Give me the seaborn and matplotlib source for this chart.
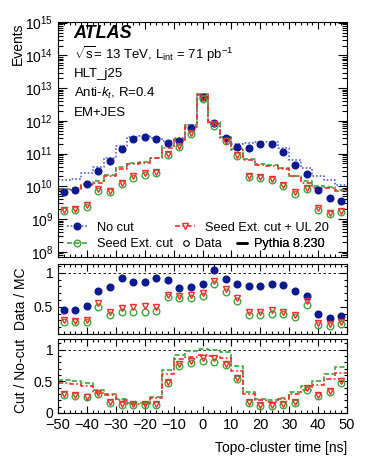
import numpy as np
import matplotlib
matplotlib.use('Agg')
import matplotlib.pyplot as plt
from matplotlib.lines import Line2D
from matplotlib.ticker import MultipleLocator, FixedLocator, FuncFormatter, LogLocator, NullFormatter
import seaborn as sns

# topo-cluster time bins [ns]
bin_edges = list(range(-50, 51, 4))
time_ns = [-48, -44, -40, -36, -32, -28, -24, -20, -16, -12, -8, -4, 0,
           4, 8, 12, 16, 20, 24, 28, 32, 36, 40, 44, 48]

# events, data
data_nocut = [6.5e9, 7.8e9, 1.2e10, 2.9e10, 6.0e10, 1.4e11, 2.8e11, 3.3e11, 2.7e11, 2.1e11, 2.5e11, 6.0e11, 5.5e12,
              8.9e11, 2.9e11, 1.6e11, 1.5e11, 2.0e11, 2.0e11, 1.1e11, 4.5e10, 2.4e10, 7.9e9, 4.3e9, 3.5e9]
data_seed = [1.75e9, 1.85e9, 2.4e9, 7.4e9, 6.6e9, 1.15e10, 1.85e10, 2.2e10, 2.5e10, 9.2e10, 1.6e11, 4.1e11, 4.7e12,
             7.2e11, 2.4e11, 8.6e10, 1.95e10, 1.75e10, 1.55e10, 1.0e10, 6.0e9, 8.0e9, 1.9e9, 1.4e9, 1.65e9]
data_ul20 = [1.9e9, 2.0e9, 2.6e9, 8.1e9, 7.2e9, 1.3e10, 2.1e10, 2.5e10, 2.8e10, 9.8e10, 1.7e11, 4.4e11, 5.0e12,
             7.9e11, 2.5e11, 9.1e10, 2.1e10, 1.9e10, 1.7e10, 1.1e10, 6.5e9, 8.7e9, 2.1e9, 1.5e9, 1.8e9]

# events, Pythia 8.230
mc_nocut = [1.6e10, 1.7e10, 2.5e10, 4.0e10, 7.2e10, 1.7e11, 3.2e11, 3.5e11, 3.0e11, 2.5e11, 3.0e11, 7.6e11, 6.6e12,
            9.1e11, 3.3e11, 1.9e11, 2.1e11, 2.3e11, 2.3e11, 1.5e11, 6.5e10, 3.5e10, 2.0e10, 1.6e10, 1.1e10]
mc_seed = [8.3e9, 8.7e9, 1.2e10, 1.5e10, 2.2e10, 3.8e10, 5.1e10, 5.6e10, 7.5e10, 1.7e11, 2.8e11, 7.4e11, 6.7e12,
           9.0e11, 3.2e11, 1.4e11, 6.9e10, 4.9e10, 4.6e10, 3.6e10, 2.1e10, 1.5e10, 1.0e10, 9.8e9, 7.9e9]
mc_ul20 = [7.5e9, 7.8e9, 1.1e10, 1.25e10, 2.0e10, 3.4e10, 4.8e10, 5.3e10, 7.2e10, 1.5e11, 2.6e11, 6.7e11, 6.0e12,
           8.2e11, 2.9e11, 1.3e11, 6.3e10, 4.6e10, 4.1e10, 3.4e10, 2.0e10, 1.3e10, 9.0e9, 8.6e9, 7.0e9]

# Data / MC
dmc_nocut = [0.456, 0.456, 0.505, 0.735, 0.79, 0.92, 0.86, 0.87, 0.93, 0.89, 0.78, 0.79, 0.83,
             1.045, 0.91, 0.83, 0.81, 0.81, 0.83, 0.82, 0.73, 0.66, 0.40, 0.34, 0.36]
dmc_ul20 = [0.30, 0.29, 0.30, 0.55, 0.42, 0.48, 0.50, 0.51, 0.49, 0.68, 0.66, 0.67, 0.70,
            0.88, 0.76, 0.63, 0.42, 0.43, 0.46, 0.43, 0.38, 0.58, 0.26, 0.25, 0.28]
dmc_seed = [0.27, 0.27, 0.28, 0.50, 0.38, 0.42, 0.42, 0.42, 0.44, 0.64, 0.63, 0.63, 0.66,
            0.84, 0.72, 0.59, 0.38, 0.38, 0.39, 0.39, 0.35, 0.53, 0.23, 0.22, 0.24]

# Cut / No-cut
cut_data_ul20 = [0.30, 0.29, 0.26, 0.31, 0.17, 0.14, 0.14, 0.14, 0.15, 0.49, 0.77, 0.83, 0.87,
                 0.87, 0.78, 0.56, 0.17, 0.12, 0.12, 0.15, 0.17, 0.40, 0.29, 0.34, 0.51]
cut_data_seed = [0.28, 0.27, 0.25, 0.30, 0.16, 0.12, 0.12, 0.12, 0.13, 0.47, 0.74, 0.79, 0.82,
                 0.80, 0.76, 0.53, 0.16, 0.11, 0.11, 0.13, 0.16, 0.37, 0.27, 0.33, 0.48]
cut_mc_seed = [0.52, 0.51, 0.47, 0.365, 0.30, 0.225, 0.16, 0.16, 0.25, 0.68, 0.92, 0.98, 1.01,
               0.99, 0.96, 0.74, 0.33, 0.215, 0.20, 0.24, 0.33, 0.42, 0.51, 0.61, 0.72]
cut_mc_ul20 = [0.47, 0.46, 0.43, 0.31, 0.28, 0.20, 0.15, 0.15, 0.24, 0.61, 0.85, 0.88, 0.91,
               0.90, 0.87, 0.67, 0.30, 0.20, 0.18, 0.225, 0.30, 0.365, 0.45, 0.535, 0.64]

navy = '#0b1a8f'
blue = '#5560e0'
green = '#3aaa3a'
red = '#ff2a2a'
dotted = (0, (1, 1.2))
dashed = (0, (3, 1.5))
dashdot = (0, (3, 1.5, 1, 1.5))
ms = 4.8

sns.set_theme(style='ticks')
plt.rcParams['font.family'] = ['Liberation Sans', 'DejaVu Sans']
plt.rcParams['mathtext.fontset'] = 'custom'
plt.rcParams['mathtext.rm'] = 'Liberation Sans'
plt.rcParams['mathtext.it'] = 'Liberation Sans:italic'
plt.rcParams['mathtext.bf'] = 'Liberation Sans:bold'
plt.rcParams['mathtext.default'] = 'regular'
plt.rcParams['axes.linewidth'] = 0.8
plt.rcParams['text.color'] = 'black'
plt.rcParams['axes.labelcolor'] = 'black'

W, H = 366, 474
fig = plt.figure(figsize=(W / 100, H / 100), dpi=100)


def box(x0, y0, x1, y1):
    return [x0 / W, 1 - y1 / H, (x1 - x0) / W, (y1 - y0) / H]


ax0 = fig.add_axes(box(58, 22, 347, 257))
ax1 = fig.add_axes(box(58, 264, 347, 334))
ax2 = fig.add_axes(box(58, 339, 347, 413))


def step(ax, vals, color, ls):
    sns.histplot(x=time_ns, weights=vals, bins=bin_edges, element='step', fill=False,
                 color=color, linestyle=ls, linewidth=1.2, ax=ax)


def points(ax, vals, color, marker, filled):
    sns.lineplot(x=time_ns, y=vals, ax=ax, linestyle='none', marker=marker, markersize=ms,
                 markerfacecolor=color if filled else 'none', markeredgecolor=color,
                 markeredgewidth=1.0, color=color, legend=False)


# main panel
step(ax0, mc_nocut, blue, dotted)
step(ax0, mc_seed, green, dashed)
step(ax0, mc_ul20, red, dashdot)
points(ax0, data_nocut, navy, 'o', True)
points(ax0, data_seed, green, 'o', False)
points(ax0, data_ul20, red, 'v', False)
ax0.set_yscale('log')

# data / MC
ax1.axhline(1, color='black', lw=0.6, ls=(0, (3, 3)))
points(ax1, dmc_nocut, navy, 'o', True)
points(ax1, dmc_seed, green, 'o', False)
points(ax1, dmc_ul20, red, 'v', False)
ax1.set_ylim(0.1, 1.13)

# cut / no-cut
ax2.axhline(1, color='black', lw=0.6, ls=(0, (3, 3)))
step(ax2, cut_mc_seed, green, dashed)
step(ax2, cut_mc_ul20, red, dashdot)
points(ax2, cut_data_seed, green, 'o', False)
points(ax2, cut_data_ul20, red, 'v', False)
ax2.set_ylim(0, 1.17)

fmt = FuncFormatter(lambda v, p: f'{v:g}')
for ax in (ax0, ax1, ax2):
    ax.set_xlim(-50, 50)
    ax.xaxis.set_major_locator(MultipleLocator(10))
    ax.xaxis.set_minor_locator(MultipleLocator(2))
    ax.tick_params(which='both', direction='in', top=True, right=True, labelsize=10,
                   colors='black', width=0.8, pad=3.5)
    ax.tick_params(which='major', length=5)
    ax.tick_params(which='minor', length=2.5)
    for s in ax.spines.values():
        s.set_color('black')
    ax.set_xlabel('')
    ax.set_ylabel('')

ax0.yaxis.set_major_locator(LogLocator(base=10, numticks=20))
ax0.yaxis.set_minor_locator(LogLocator(base=10, subs=np.arange(2, 10), numticks=20))
ax0.yaxis.set_minor_formatter(NullFormatter())
ax0.tick_params(axis='y', which='major', length=6.5)
ax0.tick_params(axis='y', which='minor', length=3.5)
ax0.set_ylim(6.9e7, 1.05e15)

ax1.yaxis.set_major_locator(FixedLocator([0.5, 1]))
ax1.yaxis.set_minor_locator(MultipleLocator(0.1))
ax1.yaxis.set_major_formatter(fmt)
ax2.yaxis.set_major_locator(FixedLocator([0, 0.5, 1]))
ax2.yaxis.set_minor_locator(MultipleLocator(0.1))
ax2.yaxis.set_major_formatter(fmt)
ax2.tick_params(axis='x', labelsize=10.5)
for ax in (ax0, ax1):
    ax.xaxis.set_major_formatter(NullFormatter())
    ax.tick_params(axis='x', labelbottom=False)

ax0.set_ylabel('Events', fontsize=10, loc='top')
ax0.yaxis.set_label_coords(-0.115, 1.0)
ax1.set_ylabel('Data / MC', fontsize=10)
ax1.yaxis.set_label_coords(-0.105, 0.5)
ax2.set_ylabel('Cut / No-cut', fontsize=10)
ax2.yaxis.set_label_coords(-0.105, 0.5)
ax2.set_xlabel('Topo-cluster time [ns]', fontsize=10, loc='right')
ax2.xaxis.set_label_coords(1.0, -0.38)

# labels in the main panel
fig.text(73 / W, 1 - 38 / H, 'ATLAS', fontsize=13, fontweight='bold', fontstyle='italic', va='baseline')
fig.text(74 / W, 1 - 59.5 / H, r'$\sqrt{s}$= 13 TeV, L$_{\rm int}$ = 71 pb$^{-1}$', fontsize=9.5, va='baseline')
fig.text(74 / W, 1 - 77.5 / H, 'HLT_j25', fontsize=9.5, va='baseline')
fig.text(74 / W, 1 - 97 / H, r'Anti-$\mathit{k}_{\mathit{t}}$, R=0.4', fontsize=9.5, va='baseline')
fig.text(74 / W, 1 - 116.5 / H, 'EM+JES', fontsize=9.5, va='baseline')

# legend
entries = [
    (Line2D([], [], color=blue, ls=dotted, lw=1.2, marker='o', ms=ms, mfc=navy, mec=navy),
     'No cut', 67, 227.7, 1.56, 0.78),
    (Line2D([], [], color=green, ls=dashed, lw=1.2, marker='o', ms=ms, mfc='none', mec=green),
     'Seed Ext. cut', 67, 244.3, 1.56, 0.78),
    (Line2D([], [], color=red, ls=dashdot, lw=1.2, marker='v', ms=ms, mfc='none', mec=red),
     'Seed Ext. cut + UL 20', 175, 227.7, 1.56, 0.78),
    (Line2D([], [], color='black', ls='none', marker='o', ms=4, mfc='none', mec='black', mew=0.8),
     'Data', 181, 244.3, 0.78, 0.3),
    (Line2D([], [], color='black', ls='-', lw=1.8),
     'Pythia 8.230', 237, 244.3, 0.78, 0.55),
]
for handle, label, lx, ly, hl, tp in entries:
    leg = ax0.legend([handle], [label], loc='center left', bbox_to_anchor=(lx / W, 1 - ly / H),
                     bbox_transform=fig.transFigure, frameon=False, fontsize=9.2, borderpad=0,
                     borderaxespad=0, handlelength=hl, handletextpad=tp)
    ax0.add_artist(leg)

fig.savefig('out.png', dpi=100)
